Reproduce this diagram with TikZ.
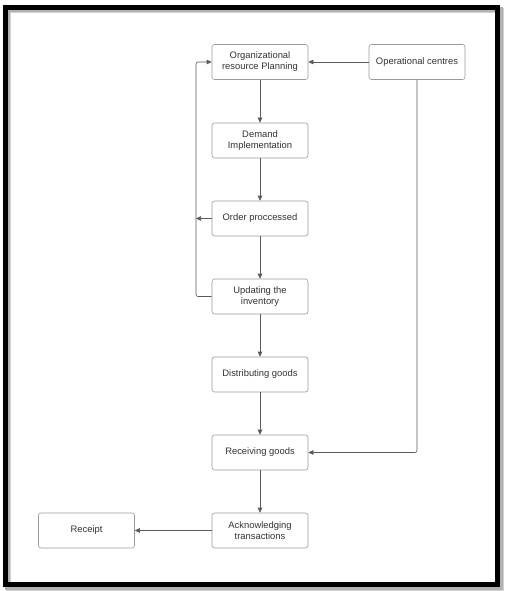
\documentclass[tikz,border=0pt]{standalone}
\usepackage{fontspec}
\setmainfont{Liberation Sans}
\usetikzlibrary{arrows.meta}
\definecolor{boxline}{HTML}{9A9A9A}
\definecolor{edgeline}{HTML}{5A5A5A}
\definecolor{txt}{HTML}{333333}
\tikzset{
  stepbox/.style={draw=boxline, line width=0.6pt, rounded corners=2.5pt, fill=white,
    minimum width=96pt, minimum height=35pt, inner sep=1pt, align=center,
    text=txt, font=\fontsize{9.4}{11}\selectfont},
  flow/.style={draw=edgeline, line width=0.6pt, rounded corners=2pt,
    -{Triangle[length=5pt,width=4.5pt]}},
  plain/.style={draw=edgeline, line width=0.6pt, rounded corners=2pt}
}
\begin{document}
\begin{tikzpicture}[x=1pt,y=-1pt]
\useasboundingbox (0,0) rectangle (505,591);
\fill[white] (0,0) rectangle (505,591);
% shadow
\draw[black!18, line width=5pt] (8.5,11) rectangle (501.5,588.5);
\draw[black!30, line width=5pt] (7.5,10) rectangle (500,587.5);
% frame
\draw[black, line width=5pt] (5.5,7.5) rectangle (497.5,584.5);

\node[stepbox] (orp) at (260,62) {Organizational\\resource Planning};
\node[stepbox] (oc) at (417,62) {Operational centres};
\node[stepbox] (di) at (260,140.5) {Demand\\Implementation};
\node[stepbox] (op) at (260,218.5) {Order proccessed};
\node[stepbox] (ui) at (260,296.5) {Updating the\\inventory};
\node[stepbox] (dg) at (260,374.5) {Distributing goods};
\node[stepbox] (rg) at (260,452.5) {Receiving goods};
\node[stepbox] (at) at (260,530.5) {Acknowledging\\transactions};
\node[stepbox] (rc) at (86.5,530.5) {Receipt};

\coordinate (lx) at (196,0);
\draw[flow] (oc) -- (orp);
\draw[flow] (orp) -- (di);
\draw[flow] (di) -- (op);
\draw[flow] (op) -- (ui);
\draw[flow] (ui) -- (dg);
\draw[flow] (dg) -- (rg);
\draw[flow] (rg) -- (at);
\draw[flow] (at) -- (rc);
\draw[flow] (op.west) -- (op.west -| lx);
\draw[flow] (ui.west) -- (ui.west -| lx) -- (orp.west -| lx) -- (orp.west);
\draw[flow] (oc.south) -- (oc.south |- rg.east) -- (rg.east);
\end{tikzpicture}
\end{document}
